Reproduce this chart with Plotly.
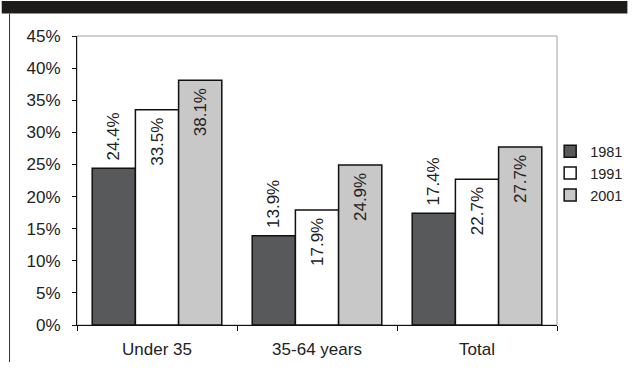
import plotly.graph_objects as go

# Share of households by age group, three census years
categories = ["Under 35", "35-64 years", "Total"]
years = ["1981", "1991", "2001"]
values_1981 = [24.4, 13.9, 17.4]
values_1991 = [33.5, 17.9, 22.7]
values_2001 = [38.1, 24.9, 27.7]
y_ticks = [0, 5, 10, 15, 20, 25, 30, 35, 40, 45]

series = [values_1981, values_1991, values_2001]
fills = ["#58595b", "#ffffff", "#c8c8c8"]
label_pos = ["outside", "inside", "inside"]
NBSP = "\u00a0"
# rotated labels read bottom-to-top: pad the side that faces the bar top
label_fmt = [NBSP + "%{y:.1f}%", "%{y:.1f}%" + NBSP, "%{y:.1f}%" + NBSP]

FONT = "Liberation Sans, Arial, sans-serif"
W, H = 640, 371
L, R, T, B = 77, 72, 36, 38
pw, ph = W - L - R, H - T - B

fig = go.Figure()
for name, vals, color, pos, fmt in zip(years, series, fills, label_pos, label_fmt):
    fig.add_trace(go.Bar(
        x=categories, y=vals, name=name,
        marker=dict(color=color, line=dict(color="#111111", width=1.5)),
        texttemplate=fmt, textposition=pos, textangle=-90,
        insidetextanchor="end", constraintext="none",
        textfont=dict(family=FONT, size=17, color="#222222"),
        insidetextfont=dict(family=FONT, size=17, color="#222222"),
        outsidetextfont=dict(family=FONT, size=17, color="#222222"),
        cliponaxis=False,
        legendgroup=name,
    ))

# frame of the plot area (top/right in gray), title band, left page rule
shapes = [
    dict(type="rect", xref="paper", yref="paper", x0=0, x1=1, y0=0, y1=1,
         line=dict(color="#a0a0a0", width=1), layer="below"),
    dict(type="rect", xref="paper", yref="paper",
         x0=-L / pw, x1=1 + R / pw, y0=1 + (T - 13) / ph, y1=1 + T / ph,
         fillcolor="#1e1b1b", line=dict(width=0)),
    dict(type="line", xref="paper", yref="paper",
         x0=(8 - L) / pw, x1=(8 - L) / pw, y0=-B / ph, y1=1 + (T - 13) / ph,
         line=dict(color="#333333", width=1)),
]

fig.update_layout(
    width=W, height=H,
    margin=dict(l=L, r=R, t=T, b=B, pad=0),
    paper_bgcolor="white", plot_bgcolor="white",
    barmode="group", bargap=0.19, bargroupgap=0,
    font=dict(family=FONT, size=17, color="#222222"),
    showlegend=True,
    legend=dict(x=1 - 7 / pw, xanchor="left", y=1 - 102 / ph, yanchor="top",
                font=dict(family=FONT, size=14.5, color="#222222"),
                traceorder="grouped", tracegroupgap=0,
                itemwidth=30, bgcolor="rgba(0,0,0,0)"),
    shapes=shapes,
)
fig.update_xaxes(
    showline=True, linecolor="#111111", linewidth=1,
    ticks="outside", ticklen=5, tickcolor="#111111", tickson="boundaries",
    ticklabelstandoff=9,
    showgrid=False, tickfont=dict(family=FONT, size=17, color="#222222"),
)
fig.update_yaxes(
    range=[0, 45], tickvals=y_ticks, ticktext=[f"{v}%" for v in y_ticks],
    showline=True, linecolor="#111111", linewidth=1,
    ticks="outside", ticklen=4, tickcolor="#111111", ticklabelstandoff=8,
    showgrid=False, zeroline=False,
    tickfont=dict(family=FONT, size=17, color="#222222"),
)

fig.write_html("out.html")
